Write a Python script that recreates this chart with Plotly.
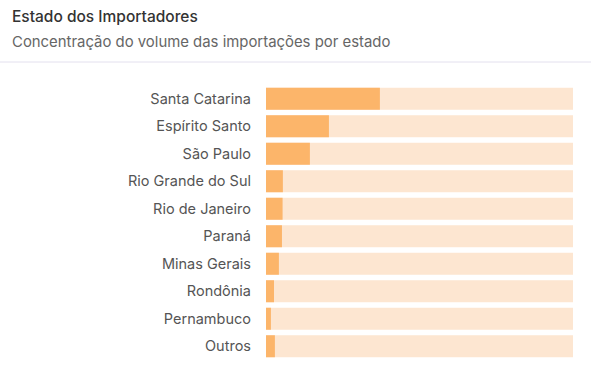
import plotly.graph_objects as go

estados = ["Santa Catarina", "Espírito Santo", "São Paulo", "Rio Grande do Sul",
           "Rio de Janeiro", "Paraná", "Minas Gerais", "Rondônia", "Pernambuco", "Outros"]
participacao = [37.1, 20.5, 14.3, 5.5, 5.4, 5.2, 4.2, 2.6, 1.6, 2.9]
total = [100] * len(estados)

FONT = "Inter, 'Noto Sans', sans-serif"

fig = go.Figure()
fig.add_trace(go.Bar(y=estados, x=total, orientation="h",
                     marker=dict(color="#fde6d1", line=dict(width=0)),
                     hoverinfo="skip", showlegend=False))
fig.add_trace(go.Bar(y=estados, x=participacao, orientation="h",
                     marker=dict(color="#fcb56a", line=dict(width=0)),
                     showlegend=False))

ML, MR, MT, MB = 266, 18, 85, 11
W, H = 591, 371
H_plot = H - MT - MB
W_plot = W - ML - MR
def py(pix):
    return (H - MB - pix) / H_plot
def px(pix):
    return (pix - ML) / W_plot

fig.update_layout(
    width=W, height=H,
    barmode="overlay", bargap=0.2,
    paper_bgcolor="white", plot_bgcolor="white",
    margin=dict(l=ML, r=MR, t=MT, b=MB),
    font=dict(family=FONT, size=14, color="#555"),
    xaxis=dict(range=[0, 100], visible=False, fixedrange=True),
    yaxis=dict(autorange="reversed", showgrid=False, zeroline=False,
               showline=False, ticks="", ticklabelstandoff=14, fixedrange=True,
               tickfont=dict(size=14.5, color="#555")),
    annotations=[
        dict(text="Estado dos Importadores", xref="paper", yref="paper",
             x=px(10), y=py(17), xanchor="left", yanchor="middle", showarrow=False,
             font=dict(size=15.5, color="#333", family=FONT, weight=500)),
        dict(text="Concentração do volume das importações por estado", xref="paper", yref="paper",
             x=px(10), y=py(42), xanchor="left", yanchor="middle", showarrow=False,
             font=dict(size=14.9, color="#666", family=FONT)),
    ],
    shapes=[dict(type="line", xref="paper", yref="paper", x0=px(0), x1=px(W),
                 y0=py(62), y1=py(62), line=dict(color="#e3e0ee", width=1))],
)

fig.write_html("out.html", config={"displayModeBar": False},
               post_script="document.body.style.margin='0';")
